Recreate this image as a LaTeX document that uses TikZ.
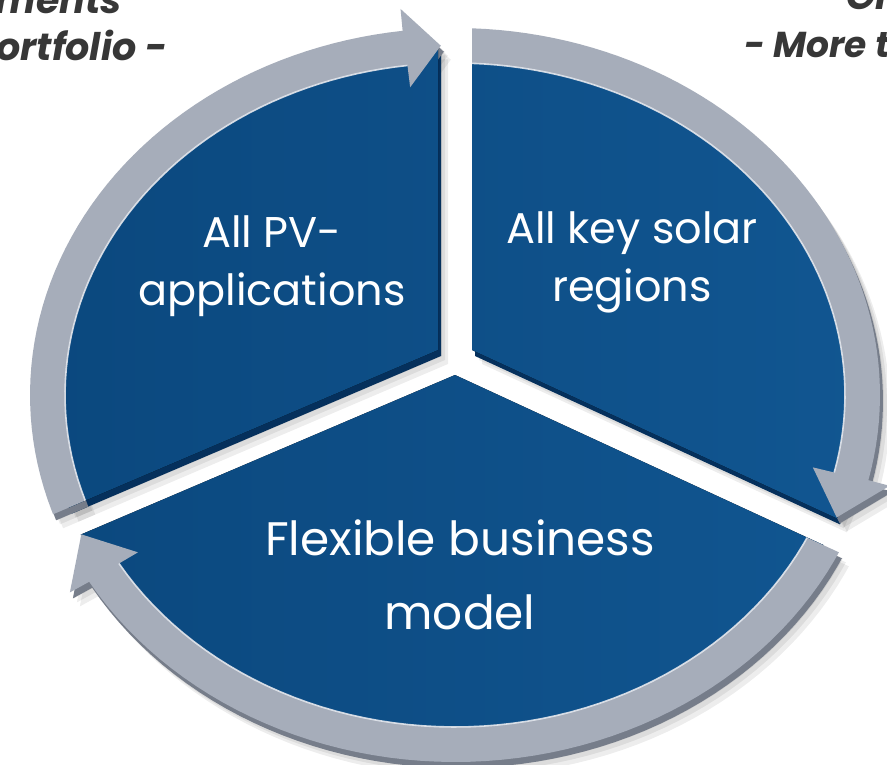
\documentclass[tikz,border=0pt]{standalone}
\usepackage{fontspec}
\setmainfont{Poppins}
\usetikzlibrary{calc}

\definecolor{pieblue}{RGB}{11,72,126}
\definecolor{pieblueL}{RGB}{17,86,145}
\definecolor{pieblueD}{RGB}{5,48,92}
\definecolor{bandgray}{RGB}{166,173,186}
\definecolor{bandside}{RGB}{118,125,138}
\definecolor{bandlight}{RGB}{228,231,237}
\definecolor{captext}{RGB}{55,55,55}

% Outer ring: centre (455,395), radii 425 x 367; band is 35 units wide.
% #1 start angle, #2 angle of the arrowhead base, #3 angle of the tip, #4 fill options
\newcommand{\ringband}[4]{%
  \fill[#4]
    plot[domain=0:1,samples=60,variable=\s]
      ({455+425*cos(#1+(#2-#1)*\s)},{395-367*sin(#1+(#2-#1)*\s)})
    -- ({455+447*cos(#2)},{395-389*sin(#2)})
    -- ({455+407.5*cos(#3)},{395-349.5*sin(#3)})
    -- ({455+368*cos(#2)},{395-310*sin(#2)})
    -- plot[domain=0:1,samples=60,variable=\s]
      ({455+390*cos(#2+(#1-#2)*\s)},{395-332*sin(#2+(#1-#2)*\s)})
    -- cycle;}
% light bevel along the inner edge of a band
\newcommand{\ringbevel}[2]{%
  \draw[bandlight, line width=1.6pt, opacity=0.9]
    plot[domain=0:1,samples=60,variable=\s]
      ({455+390*cos(#2+(#1-#2)*\s)},{395-332*sin(#2+(#1-#2)*\s)});}

% Sector outlines (wedges with gaps between them)
\newcommand{\wedgeleft}{(438,350) -- (438,-200) -- (-300,-200) -- (-300,665) -- cycle}
\newcommand{\wedgeright}{(472,350) -- (472,-200) -- (1300,-200) -- (1300,732) -- cycle}
\newcommand{\wedgebottom}{(455,375) -- (-300,697) -- (-300,1200) -- (1300,1200) -- (1300,765) -- cycle}
% Half-planes that cut the flat start of each band
\newcommand{\cutleft}{(-300,665) -- (1300,-18) -- (1300,-300) -- (-300,-300) -- cycle}
\newcommand{\cutright}{(472,-300) -- (1300,-300) -- (1300,1200) -- (472,1200) -- cycle}
\newcommand{\cutbottom}{(-300,27) -- (1300,765) -- (1300,1200) -- (-300,1200) -- cycle}

% One complete sector: face, rim band and arrowhead
% #1 wedge, #2 band cut, #3 start, #4 base, #5 tip, #6 face style, #7 band style
\newcommand{\piesector}[7]{%
  \begin{scope}
    \clip #1;
    \fill[#6] (455,395) ellipse [x radius=408, y radius=350];
  \end{scope}
  \begin{scope}
    \clip #2;
    \ringband{#3}{#4}{#5}{#7}
  \end{scope}}

\tikzset{
  label/.style={text=white, align=center, font=\fontsize{43}{58}\selectfont},
  biglabel/.style={text=white, align=center, font=\fontsize{47}{74}\selectfont},
  caption/.style={text=captext, font=\fontsize{38}{44}\selectfont\bfseries\itshape, inner sep=0pt},
  shadowfill/.style={fill=black, opacity=0.07},
  sidefill/.style={fill=pieblueD},
  bandside/.style={fill=bandside},
  facefill/.style={left color=pieblue, right color=pieblueL},
  bandfill/.style={fill=bandgray},
}

\begin{document}
\begin{tikzpicture}[x=1pt,y=-1pt]
\useasboundingbox (0,0) rectangle (887,765);
\fill[white] (0,0) rectangle (887,765);

% soft drop shadow
\foreach \dx/\dy in {4/6,7/10,10/14} {
  \begin{scope}[shift={(\dx,\dy)}]
    \piesector{\wedgeleft}{\cutleft}{210}{97}{92}{shadowfill}{shadowfill}
    \piesector{\wedgeright}{\cutright}{455}{346.5}{339.5}{shadowfill}{shadowfill}
    \piesector{\wedgebottom}{\cutbottom}{340}{210.5}{203.5}{shadowfill}{shadowfill}
  \end{scope}
}

% side faces (thickness)
\begin{scope}[shift={(3,6)}]
  \piesector{\wedgeleft}{\cutleft}{210}{97}{92}{sidefill}{bandside}
  \piesector{\wedgeright}{\cutright}{455}{346.5}{339.5}{sidefill}{bandside}
  \piesector{\wedgebottom}{\cutbottom}{340}{210.5}{203.5}{sidefill}{bandside}
\end{scope}

% top faces
\piesector{\wedgeleft}{\cutleft}{210}{97}{92}{facefill}{bandfill}
\piesector{\wedgeright}{\cutright}{455}{346.5}{339.5}{facefill}{bandfill}
\piesector{\wedgebottom}{\cutbottom}{340}{210.5}{203.5}{facefill}{bandfill}

% bevel highlights on the inner band edges
\begin{scope}
  \clip \cutleft;
  \ringbevel{210}{97}
\end{scope}
\begin{scope}
  \clip \cutright;
  \ringbevel{455}{346.5}
\end{scope}
\begin{scope}
  \clip \cutbottom;
  \ringbevel{340}{210.5}
\end{scope}

% sector texts
\node[label] (pv) at (272,266) {All PV-\\applications};
\node[label] (solar) at (632,262) {All key solar\\regions};
\node[biglabel] (flex) at (460,575) {Flexible business\\model};

% captions running off the edges
\node[caption, anchor=base east] (capa) at (122,14) {ments};
\node[caption, anchor=base west] (capb) at (-4,61) {ortfolio -};
\node[caption, anchor=base west] (capc) at (846,10) {Gr};
\node[caption, anchor=base west, font=\fontsize{36}{44}\selectfont\bfseries\itshape] (capd) at (744,58) {- More t};
\end{tikzpicture}
\end{document}
